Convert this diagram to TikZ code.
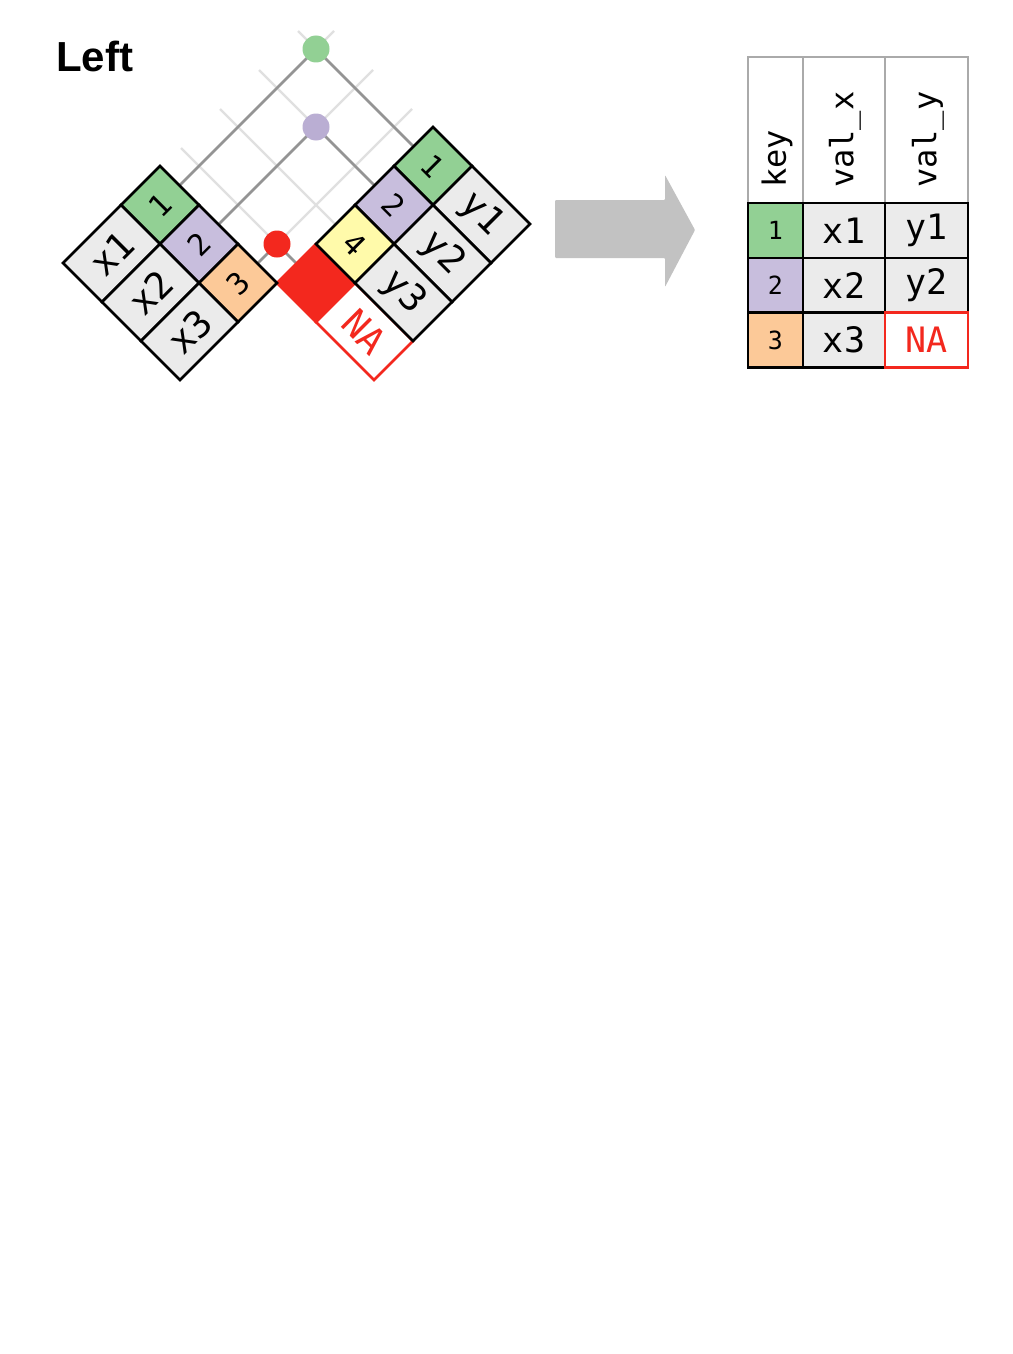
\documentclass[tikz,border=0pt]{standalone}
\usepackage{fontspec}
\setmainfont{Liberation Sans}
\newfontfamily\cellfont{DejaVu Sans Mono}
\pgfdeclarelayer{paper}
\pgfdeclarelayer{wires}
\pgfsetlayers{paper,wires,main}
\definecolor{kgreen}{RGB}{146,208,148}
\definecolor{kpurple}{RGB}{200,190,221}
\definecolor{dpurple}{RGB}{186,174,211}
\definecolor{korange}{RGB}{252,201,152}
\definecolor{kyellow}{RGB}{255,250,170}
\definecolor{cgray}{RGB}{235,235,235}
\definecolor{kred}{RGB}{243,40,30}
\definecolor{linkgray}{RGB}{148,148,148}
\definecolor{gridgray}{RGB}{224,224,224}
\definecolor{hdrgray}{RGB}{170,170,170}
\definecolor{arrowgray}{RGB}{194,194,194}
\tikzset{
  cell/.style={draw=black, line width=2.5pt, inner sep=0pt, outer sep=0pt,
    font=\cellfont\fontsize{37}{37}\selectfont},
  keyfont/.style={font=\cellfont\fontsize{30}{30}\selectfont},
  xkey/.style={cell, keyfont, rotate=45, minimum width=55.15pt, minimum height=55.15pt},
  xval/.style={cell, rotate=45, minimum width=82pt, minimum height=55.15pt, fill=cgray},
  ykey/.style={cell, keyfont, rotate=-45, minimum width=55.15pt, minimum height=55.15pt},
  yval/.style={cell, rotate=-45, minimum width=82pt, minimum height=55.15pt, fill=cgray},
  gridline/.style={draw=gridgray, line width=2.2pt},
  linkline/.style={draw=linkgray, line width=2.6pt},
  dot/.style={circle, inner sep=0pt, minimum size=27pt},
  hdr/.style={draw=hdrgray, line width=2.5pt, fill=white, inner sep=0pt, outer sep=0pt,
    minimum height=146pt},
  hdrtext/.style={rotate=90, anchor=west, inner sep=0pt, font=\cellfont\fontsize{32}{32}\selectfont},
  rkey/.style={cell, font=\cellfont\fontsize{25}{25}\selectfont, minimum width=55pt, minimum height=55pt},
  rval/.style={cell, font=\cellfont\fontsize{35}{35}\selectfont, minimum height=55pt, fill=cgray},
}
\begin{document}
\begin{tikzpicture}[x=1pt, y=-1pt]
\useasboundingbox (0,0) rectangle (1012,1354);
\begin{pgfonlayer}{paper}
\fill[white] (0,0) rectangle (1012,1354);
\end{pgfonlayer}

% title
\node[anchor=base west, inner sep=0pt, font=\bfseries\fontsize{42}{42}\selectfont] (title) at (56,71) {Left};

% dots
\node[dot, fill=kgreen] (gdot) at (316,49) {};
\node[dot, fill=dpurple] (pdot) at (316,127) {};
\node[dot, fill=kred] (rdot) at (277,244) {};

% y table: missing row first (red)
\node[ykey, fill=kred, draw=kred] (ykr) at (316,283) {};
\node[yval, fill=white, draw=kred, text=kred] (yvna) at (364.5,331.5) {NA};
\node[ykey, fill=kgreen] (yk1) at (433,166) {1};
\node[ykey, fill=kpurple] (yk2) at (394,205) {2};
\node[ykey, fill=kyellow] (yk4) at (355,244) {4};
\node[yval] (yv1) at (481.5,214.5) {y1};
\node[yval] (yv2) at (442.5,253.5) {y2};
\node[yval] (yv3) at (403.5,292.5) {y3};

% x table
\node[xkey, fill=kgreen] (xk1) at (160,205) {1};
\node[xkey, fill=kpurple] (xk2) at (199,244) {2};
\node[xkey, fill=korange] (xk3) at (238,283) {3};
\node[xval] (xv1) at (111.5,253.5) {x1};
\node[xval] (xv2) at (150.5,292.5) {x2};
\node[xval] (xv3) at (189.5,331.5) {x3};

\begin{pgfonlayer}{wires}
  % light grid
  \draw[gridline] (xk1.east) -- ++(154.5,-154.5);
  \draw[gridline] (xk2.east) -- ++(154.5,-154.5);
  \draw[gridline] (xk3.east) -- ++(154.5,-154.5);
  \draw[gridline] (yk1.west) -- ++(-115.5,-115.5);
  \draw[gridline] (yk2.west) -- ++(-115.5,-115.5);
  \draw[gridline] (yk4.west) -- ++(-115.5,-115.5);
  \draw[gridline] (ykr.west) -- ++(-115.5,-115.5);
  % matches
  \draw[linkline] (xk1.east) -- (gdot.center) -- (yk1.west);
  \draw[linkline] (xk2.east) -- (pdot.center) -- (yk2.west);
  \draw[linkline] (xk3.east) -- (rdot.center) -- (ykr.west);
\end{pgfonlayer}

% big arrow
\fill[arrowgray, rounded corners=1pt] (555,200) -- (665,200) -- (665,175) -- (695,230)
  -- (665,287) -- (665,258) -- (555,258) -- cycle;

% result table
\node[hdr, minimum width=55pt] (hkey) at (775.5,130) {};
\node[hdr, minimum width=82pt] (hvx) at (844,130) {};
\node[hdr, minimum width=83pt] (hvy) at (926.5,130) {};
\node[hdrtext] (tkey) at (777,188) {key};
\node[hdrtext] (tvx) at (845,188) {val\_x};
\node[hdrtext] (tvy) at (928,188) {val\_y};

\node[rkey, fill=kgreen] (rk1) at (775.5,230.5) {1};
\node[rkey, fill=kpurple] (rk2) at (775.5,285.5) {2};
\node[rkey, fill=korange] (rk3) at (775.5,340) {3};
\node[rval, minimum width=82pt] (rx1) at (844,230.5) {x1};
\node[rval, minimum width=82pt] (rx2) at (844,285.5) {x2};
\node[rval, minimum width=82pt] (rx3) at (844,340) {x3};
\node[rval, minimum width=83pt] (ry1) at (926.5,230.5) {y1};
\node[rval, minimum width=83pt] (ry2) at (926.5,285.5) {y2};
\node[rval, minimum width=83pt, fill=white, draw=kred, text=kred] (ryna) at (926.5,340) {NA};
\end{tikzpicture}
\end{document}
